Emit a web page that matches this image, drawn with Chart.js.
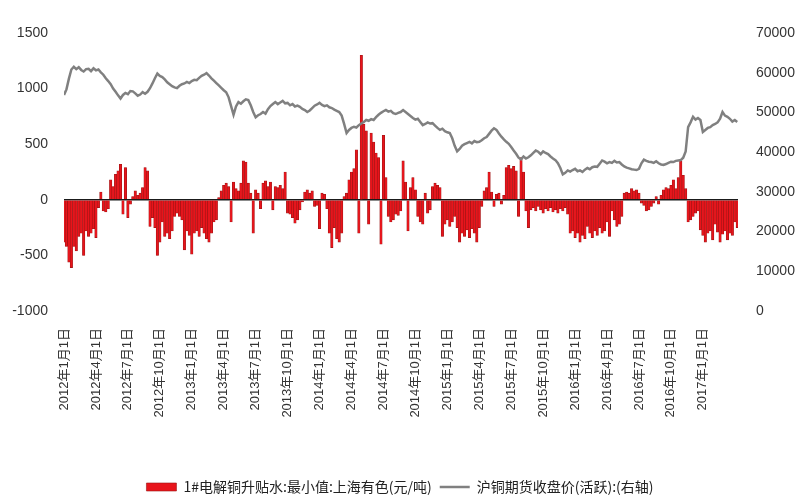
<!DOCTYPE html>
<html>
<head>
<meta charset="utf-8">
<script src="https://cdn.jsdelivr.net/npm/chart.js@4"></script>
<style>
    html, body { margin: 0; padding: 0; background: #fff; }
    #wrap { width: 800px; height: 500px; }
</style>
</head>
<body>
<div id="wrap"><canvas id="copperChart" width="800" height="500"></canvas></div>
<script>
// weekly readings, first week = 2012-01-01
const startYear = 2012;
const weeksPerMonth = 52 / 12;

// 1#电解铜升贴水 (元/吨), left axis
const premiumValues = [
    -380, -420, -560, -610, -420, -460, -330, -300, -500, -280,
    -330, -300, -260, -340, -70, 70, -100, -110, -80, 180,
    120, 230, 260, 320, -130, 290, -160, -40, 30, 80,
    40, 60, 110, 290, 260, -240, -160, -250, -500, -380,
    -200, -330, -300, -350, -280, -150, -120, -150, -180, -450,
    -280, -320, -490, -300, -280, -330, -250, -300, -350, -380,
    -300, -200, -180, 20, 80, 130, 150, 120, -200, 160,
    100, 80, 150, 350, 340, 150, 60, -300, 90, 60,
    -80, 150, 170, 120, 160, -90, 120, 110, 130, 100,
    250, -120, -130, -160, -210, -180, -90, -20, 70, 90,
    60, 80, -60, -50, -260, 60, 50, -80, -300, -430,
    -250, -350, -380, -300, 30, 60, 180, 250, 280, 450,
    -300, 1300, 680, 620, -220, 600, 520, 420, 380, -400,
    580, 200, -150, -200, -180, -130, -140, -100, 350, 160,
    -280, 110, 200, 90, -150, -200, -220, 60, -120, -90,
    120, 150, 130, 110, -330, -220, -180, -240, -200, -150,
    -250, -380, -300, -330, -270, -340, -260, -300, -380, -250,
    -60, 80, 110, 250, 70, -60, 50, 60, -40, 40,
    290, 310, 280, 300, 260, -150, 380, 250, -100, -250,
    -90, -70, -100, -60, -90, -120, -80, -100, -70, -110,
    -90, -120, -80, -100, -70, -130, -300, -280, -340, -300,
    -380, -320, -350, -240, -300, -340, -280, -320, -250, -300,
    -280, -200, -330, -100, -180, -240, -220, -150, 60, 70,
    60, 100, 80, 90, 60, -30, -50, -100, -90, -60,
    -30, 30, -40, 40, 90, 110, 100, 130, 180, 100,
    200, 350, 220, 100, -200, -180, -150, -120, -100, -270,
    -320, -380, -300, -280, -360, -220, -290, -380, -310, -280,
    -360, -300, -320, -200, -250
];

// 沪铜期货收盘价, right axis
const closePrices = [
    54400, 55800, 58500, 60800, 61500, 60900, 61400, 60700, 60300, 60900,
    61000, 60400, 61100, 60600, 60800, 60100, 59500, 58600, 57900, 57100,
    56000, 55200, 54300, 53500, 54400, 54900, 54600, 55400, 55300, 54800,
    54200, 54500, 55100, 54700, 55200, 56100, 57300, 58600, 59800, 59200,
    58900, 58300, 57600, 57100, 56600, 56300, 56100, 56700, 57100, 57300,
    57700, 57400, 57900, 58200, 58100, 58700, 59200, 59500, 59900, 59300,
    58600, 58000, 57400, 56800, 56200, 55600, 55100, 53800, 51600, 49400,
    51500, 52600, 52200, 52800, 53300, 53100, 51800, 50100, 48800, 49300,
    49600, 50100, 49700, 50800, 51600, 52100, 52600, 52100, 52500, 52900,
    52300, 52400, 51800, 52100, 51500, 51700, 51400, 50900, 50600, 50100,
    50500, 51100, 51700, 52000, 52400, 51900, 51600, 51800, 51300, 51100,
    50700, 50400, 50100, 49200, 47100, 44800, 45600, 46100, 46400, 46200,
    46800, 47200, 47600, 48100, 47900, 48300, 48100, 48800, 49400, 49900,
    50300, 50600, 50200, 50400, 49800, 49600, 49900, 50100, 50600, 50100,
    49600, 49100, 48600, 48200, 48400, 47600, 46800, 47100, 47500, 47200,
    47300, 46700, 46100, 45600, 45900, 45300, 45000, 44800, 43500, 41600,
    40200, 40800, 41600, 42000, 42300, 42600, 42200, 42800, 42500, 42600,
    43000, 43500, 43800, 44600, 45400, 46000, 45600, 44700, 43900, 43200,
    42600, 42100, 41300, 40400, 39600, 38600, 38200, 38900, 38400, 38700,
    39200, 39800, 40400, 40100, 39500, 40200, 39800, 39500, 38900, 38400,
    38000, 37200, 36000, 34400, 34800, 35400, 35100, 35500, 35800, 35200,
    35400, 35000, 35600, 36000, 35700, 36200, 36400, 36300, 37100, 37900,
    37600, 37200, 37500, 37300, 37800, 37400, 37500, 36900, 36400, 36100,
    35900, 35700, 35600, 35500, 35800, 37200, 38100, 37800, 37600, 37500,
    37300, 37700, 37200, 36900, 36800, 37000, 37300, 37600, 37500, 37800,
    37900, 38000, 38600, 40200, 46300, 47500, 48900, 48200, 48600, 48100,
    45100, 45600, 46100, 46300, 46800, 47100, 47500, 48400, 50100, 49200,
    48900, 48400, 47700, 48100, 47600
];

const leftTicks = [-1000, -500, 0, 500, 1000, 1500];
const rightTicks = [0, 10000, 20000, 30000, 40000, 50000, 60000, 70000];

const premiumLabel = "1#电解铜升贴水:最小值:上海有色(元/吨)";
const priceLabel = "沪铜期货收盘价(活跃):(右轴)";

// x is months since 2012-01-01
const toPoints = arr => arr.map((v, i) => ({ x: i / weeksPerMonth, y: v }));

function quarterLabel(v) {
    if (v > 60 || v % 3 !== 0) return null;
    const y = startYear + Math.floor(v / 12);
    const m = (v % 12) + 1;
    return y + "年" + m + "月1日";
}

const tickFont = { family: "'Liberation Sans', 'Noto Sans CJK SC', sans-serif", size: 14 };

const copperChart = new Chart(document.getElementById("copperChart"), {
    type: "bar",

    data: {
        datasets: [
            {
                label: premiumLabel,
                data: toPoints(premiumValues),
                yAxisID: "y",
                backgroundColor: "#e8141b",
                borderColor: "#9a1515",
                borderWidth: { left: 0.6, right: 0.6, top: 0.6, bottom: 0.6 },
                borderSkipped: "start",
                barPercentage: 1,
                categoryPercentage: 1,
                pointStyle: "rect",
                order: 1
            },
            {
                type: "line",
                label: priceLabel,
                data: toPoints(closePrices),
                yAxisID: "y1",
                borderColor: "#808080",
                backgroundColor: "#808080",
                borderWidth: 2.5,
                pointRadius: 0,
                tension: 0,
                pointStyle: "line",
                order: 0
            }
        ]
    },

    options: {
        responsive: false,
        animation: false,
        layout: {
            padding: { top: 33, left: 0, right: 0, bottom: 0 }
        },

        plugins: {
            tooltip: { enabled: false },
            legend: {
                position: "bottom",
                maxHeight: 28,
                labels: {
                    color: "#222",
                    usePointStyle: true,
                    pointStyleWidth: 30,
                    boxHeight: 8,
                    padding: 8,
                    font: { family: "'Noto Sans CJK SC', sans-serif", size: 14 },
                    sort: (a, b) => a.datasetIndex - b.datasetIndex
                }
            }
        },

        scales: {
            x: {
                type: "linear",
                min: 0,
                max: 63.3,
                offset: false,
                grid: { display: false },
                border: { display: false },
                ticks: {
                    stepSize: 3,
                    autoSkip: false,
                    maxRotation: 90,
                    minRotation: 90,
                    padding: 9,
                    color: "#333",
                    font: { family: "'Liberation Sans', 'Noto Sans CJK SC', sans-serif", size: 13 },
                    callback: v => quarterLabel(v)
                },
                afterFit: scale => { scale.height = 161; }
            },

            y: {
                position: "left",
                min: leftTicks[0],
                max: leftTicks[leftTicks.length - 1],
                border: { display: false },
                grid: {
                    drawTicks: false,
                    color: ctx => ctx.tick && ctx.tick.value === 0 ? "#1a1a1a" : "transparent",
                    lineWidth: 1.5
                },
                afterBuildTicks: scale => { scale.ticks = leftTicks.map(v => ({ value: v })); },
                ticks: {
                    padding: 16,
                    color: "#333",
                    font: tickFont,
                    callback: v => String(v)
                },
                afterFit: scale => { scale.width = 64; }
            },

            y1: {
                position: "right",
                min: rightTicks[0],
                max: rightTicks[rightTicks.length - 1],
                border: { display: false },
                grid: { display: false },
                afterBuildTicks: scale => { scale.ticks = rightTicks.map(v => ({ value: v })); },
                ticks: {
                    padding: 10,
                    color: "#333",
                    font: tickFont,
                    callback: v => String(v)
                },
                afterFit: scale => { scale.width = 62; }
            }
        }
    }
});
</script>
</body>
</html>
